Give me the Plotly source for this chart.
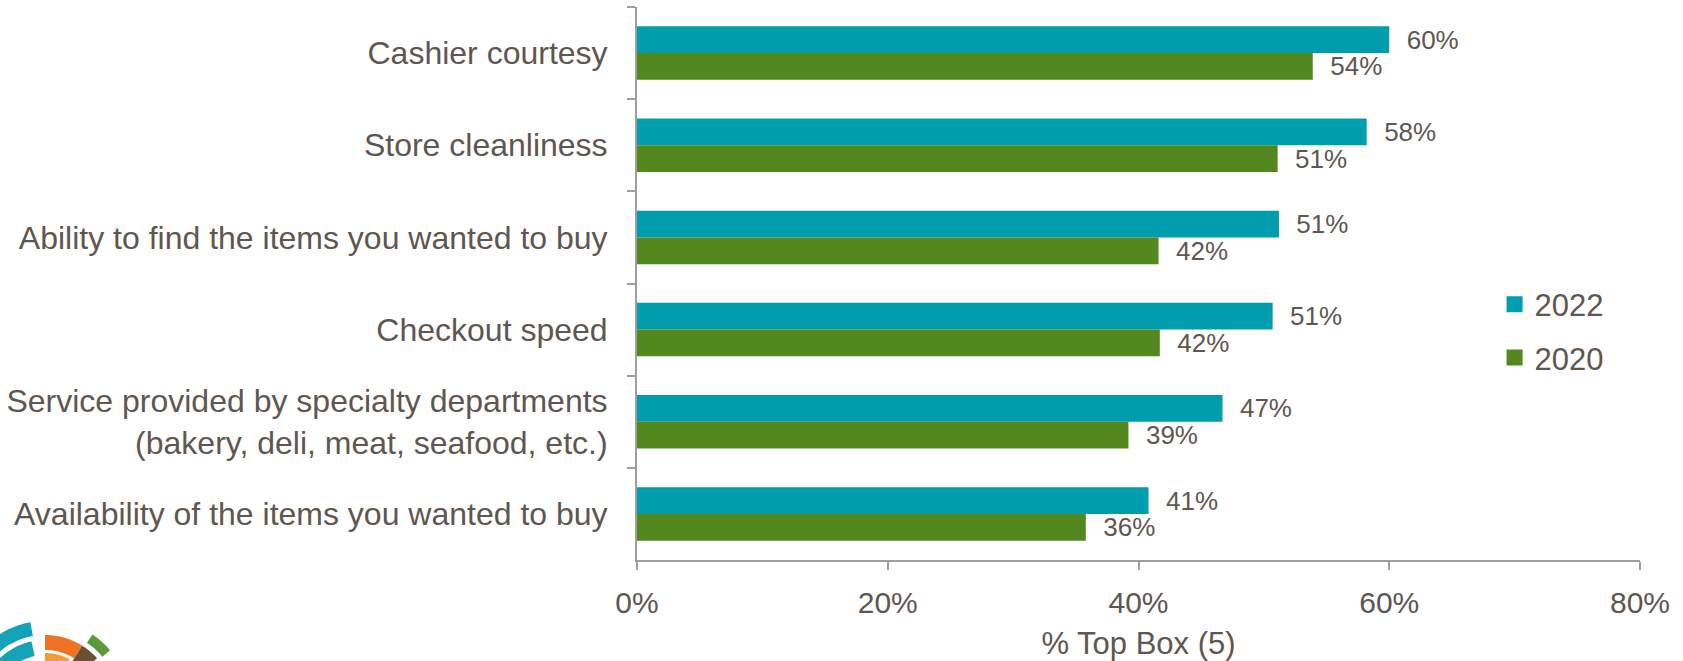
import numpy as np
import plotly.graph_objects as go

categories = [
    "Cashier courtesy",
    "Store cleanliness",
    "Ability to find the items you wanted to buy",
    "Checkout speed",
    "Service provided by specialty departments<br>(bakery, deli, meat, seafood, etc.)",
    "Availability of the items you wanted to buy",
]
values_2022 = [60.0, 58.2, 51.2, 50.7, 46.7, 40.8]
values_2020 = [53.9, 51.1, 41.6, 41.7, 39.2, 35.8]
series_names = ["2022", "2020"]
x_ticks = [0, 20, 40, 60, 80]
x_tick_labels = ["0%", "20%", "40%", "60%", "80%"]

TEAL = "#009dae"
GREEN = "#53881f"
TEXT = "#605650"
AXIS = "#a39d99"
FONT = "Liberation Sans, Arial, sans-serif"

W, H = 1683, 661
ML, MR, MT, MB = 637, 43, 7, 101

fig = go.Figure()
for name, vals, col in [(series_names[0], values_2022, TEAL), (series_names[1], values_2020, GREEN)]:
    fig.add_trace(go.Bar(
        y=categories, x=vals, orientation="h", name=name,
        marker=dict(color=col, line=dict(width=0)),
        text=["\u00a0\u00a0" + f"{round(v)}%" for v in vals],
        textposition="outside", constraintext="none", cliponaxis=False,
        textfont=dict(size=26, color=TEXT, family=FONT),
        showlegend=False,
    ))
for i, (name, col) in enumerate([(series_names[0], TEAL), (series_names[1], GREEN)]):
    fig.add_trace(go.Scatter(
        x=[None], y=[None], mode="markers", name=name, legendgroup=f"g{i}",
        marker=dict(symbol="square", size=16, color=col),
    ))

# decorative logo fragment (bottom-left), pixel geometry converted to paper coords
def px2paper(px, py):
    pw = W - ML - MR
    ph = H - MT - MB
    return (px - ML) / pw, (H - MB - py) / ph

def sector(cx, cy, r0, r1, a0, a1, color):
    ang = np.linspace(np.radians(a0), np.radians(a1), 40)
    pts = [(cx + r1 * np.cos(a), cy - r1 * np.sin(a)) for a in ang]
    pts += [(cx + r0 * np.cos(a), cy - r0 * np.sin(a)) for a in ang[::-1]]
    pp = [px2paper(x, y) for x, y in pts]
    path = "M " + " L ".join(f"{x:.5f},{y:.5f}" for x, y in pp) + " Z"
    return dict(type="path", path=path, xref="paper", yref="paper",
                fillcolor=color, line=dict(width=0), layer="above")

cx, cy = 45, 705
shapes = [
    sector(cx, cy, 70, 84, 100, 170, "#14a2b8"),
    sector(cx, cy, 50, 65, 102, 170, "#14a2b8"),
    sector(cx, cy, 55, 70, 58, 90, "#ee7423"),
    sector(cx, cy, 40, 52, 62, 90, "#f39a3a"),
    sector(cx, cy, 40, 70, 42, 58, "#6b4f33"),
    sector(cx, cy, 75, 85, 40, 56, "#5a9a3a"),
]

fig.update_layout(
    width=W, height=H,
    margin=dict(l=ML, r=MR, t=MT, b=MB, pad=0, autoexpand=False),
    paper_bgcolor="white", plot_bgcolor="white",
    barmode="group", bargap=0.42, bargroupgap=0,
    font=dict(family=FONT, color=TEXT, size=31),
    shapes=shapes,
    legend=dict(x=0.855, xanchor="left", y=0.414, yanchor="middle",
                font=dict(size=31, color=TEXT, family=FONT),
                tracegroupgap=10, bgcolor="rgba(0,0,0,0)"),
    xaxis=dict(
        range=[0, 80], tickmode="array", tickvals=x_ticks, ticktext=x_tick_labels,
        showgrid=False, zeroline=False, automargin=False,
        showline=True, linecolor=AXIS, linewidth=2,
        ticks="outside", ticklen=8, tickcolor=AXIS, tickwidth=2,
        tickfont=dict(size=30, color=TEXT, family=FONT),
        ticklabelstandoff=7,
        title=dict(text="% Top Box (5)", font=dict(size=31, color=TEXT, family=FONT), standoff=18),
    ),
    yaxis=dict(
        autorange="reversed", type="category", automargin=False,
        showgrid=False, zeroline=False,
        showline=True, linecolor=AXIS, linewidth=2,
        ticks="outside", ticklen=8, tickcolor=AXIS, tickwidth=2,
        tickson="boundaries",
        tickfont=dict(size=32, color=TEXT, family=FONT),
        ticklabelstandoff=21,
    ),
)

fig.write_html("out.html")
